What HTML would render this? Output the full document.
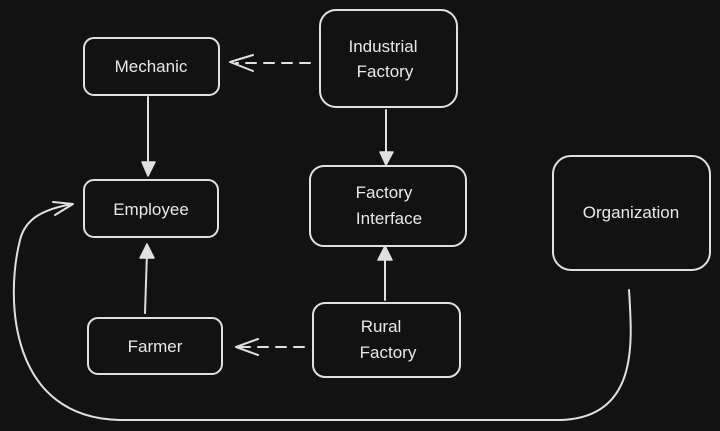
<!DOCTYPE html>
<html><head><meta charset="utf-8"><style>
html,body{margin:0;padding:0;background:#121212;}
svg{display:block}
text{font-family:"Liberation Sans",sans-serif;font-size:17px;fill:#e8e8e8;text-anchor:middle}
</style></head><body>
<svg width="720" height="431" viewBox="0 0 720 431">
<g fill="none" stroke="#e0e0e0" stroke-width="2" stroke-linecap="round" stroke-linejoin="round">
<rect x="84" y="38" width="135" height="57" rx="10"/>
<rect x="320" y="10" width="137" height="97" rx="16"/>
<rect x="84" y="180" width="134" height="57" rx="10"/>
<rect x="310" y="166" width="156" height="80" rx="14"/>
<rect x="553" y="156" width="157" height="114" rx="18"/>
<rect x="88" y="318" width="134" height="56" rx="10"/>
<rect x="313" y="303" width="147" height="74" rx="12"/>
<path d="M310 63 L236 63" stroke-dasharray="10 8"/>
<path d="M253 55 L230 62 L253 71"/>
<path d="M304 347 L240 347" stroke-dasharray="10 8"/>
<path d="M258 339 L236 347 L258 355"/>
<path d="M148 97 L148 170"/>
<path d="M386 110 L386 156"/>
<path d="M385 300 L385 256"/>
<path d="M145 313 L147 252"/>
<path d="M629 290 C632 340 640 418 560 420 L120 420 C10 418 5 300 20 240 C25 220 40 210 72 204"/>
<path d="M53 202 L73 204 L55 215"/>
</g>
<g fill="#e0e0e0" stroke="#e0e0e0" stroke-width="1.5" stroke-linejoin="round">
<path d="M142 162 L155 162 L148 176 Z"/>
<path d="M380 152 L393 152 L386 165 Z"/>
<path d="M378 260 L392 260 L385 246 Z"/>
<path d="M140 258 L154 258 L147 244 Z"/>
</g>
<text x="151" y="72">Mechanic</text>
<text x="383" y="52">Industrial</text>
<text x="385" y="77">Factory</text>
<text x="151" y="215">Employee</text>
<text x="384" y="198">Factory</text>
<text x="389" y="224">Interface</text>
<text x="631" y="218">Organization</text>
<text x="155" y="352">Farmer</text>
<text x="381" y="332">Rural</text>
<text x="388" y="358">Factory</text>
</svg>
</body></html>
